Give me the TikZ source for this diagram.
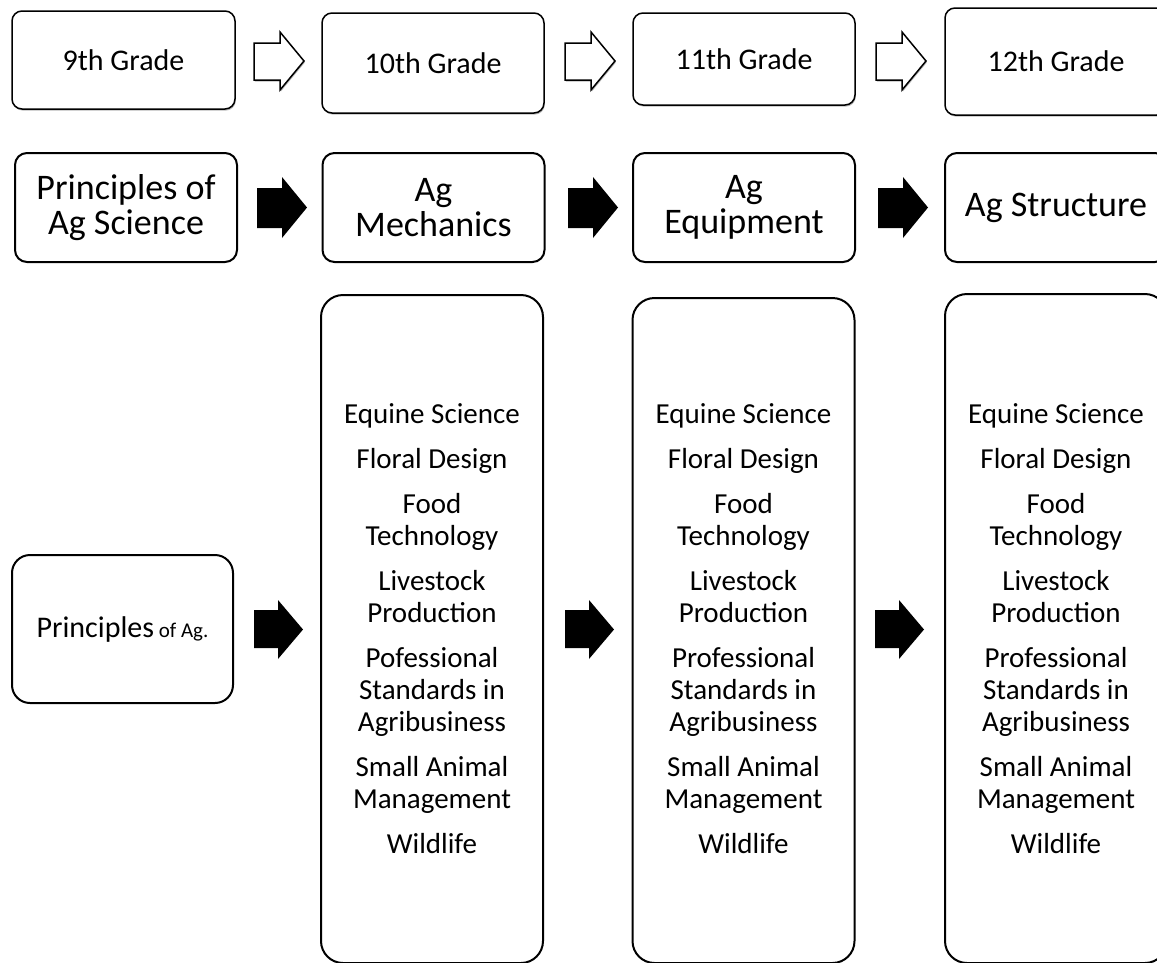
\documentclass[tikz,border=0pt]{standalone}
\usepackage{fontspec}
\setmainfont{Carlito}
\usetikzlibrary{shadows}
\newcommand\electivelist[1]{Equine Science\\[13pt]Floral Design\\[13pt]Food\\Technology\\[13pt]Livestock\\Production\\[13pt]#1\\Standards in\\Agribusiness\\[13pt]Small Animal\\Management\\[13pt]Wildlife}
\begin{document}
\begin{tikzpicture}[x=1pt,y=-1pt,
  shad/.style={drop shadow={shadow xshift=0.8pt,shadow yshift=-1.6pt,opacity=0.45,fill=black!60}},
  gradebox/.style={draw, fill=white, shad, line width=1.5pt, rounded corners=10pt, align=center, inner sep=0pt,
    font=\fontsize{30}{36}\selectfont},
  coursebox/.style={draw, fill=white, line width=2pt, rounded corners=12pt, align=center, inner sep=0pt,
    font=\fontsize{36}{35}\selectfont},
  tallbox/.style={draw, fill=white, line width=2pt, rounded corners=22pt, align=center, inner sep=0pt,
    minimum width=222pt, font=\fontsize{29}{32}\selectfont},
  electives/.style={align=center, inner sep=0pt, font=\fontsize{29}{32}\selectfont},
  outarrow/.style={draw, fill=white, shad, line width=1.5pt, line join=miter},
  blackarrow/.style={fill=black}
]
\clip (0,0) rectangle (1157,962);
\fill[white] (0,0) rectangle (1157,962);

% row 1: grades
\node[gradebox, minimum width=223pt, minimum height=98pt] (g9) at (123.5,60) {9th Grade};
\node[gradebox, minimum width=222pt, minimum height=100pt] (g10) at (433,63) {10th Grade};
\node[gradebox, minimum width=222pt, minimum height=92pt] (g11) at (744,59) {11th Grade};
\node[gradebox, minimum width=222pt, minimum height=107pt] (g12) at (1056,61.5) {12th Grade};

\foreach \dx in {0,311,622}{
  \begin{scope}[shift={(\dx,0)}]
    \draw[outarrow] (254,43) -- (280,43) -- (280,32) -- (304,61) -- (280,90) -- (280,80) -- (254,80) -- cycle;
  \end{scope}
}

% row 2: courses
\node[coursebox, minimum width=222pt, minimum height=109pt] (pas) at (126,207.5) {Principles of\\Ag Science};
\node[coursebox, minimum width=222pt, minimum height=109pt] (mech) at (433.5,207.5) {Ag\\Mechanics};
\node[coursebox, minimum width=222pt, minimum height=109pt] (equip) at (744,207.5) {Ag\\Equipment};
\node[coursebox, minimum width=222pt, minimum height=109pt] (struct) at (1056,207.5) {Ag Structure};

\foreach \dx in {0,311,621}{
  \begin{scope}[shift={(\dx,0)}]
    \fill[blackarrow] (257,188) -- (282,188) -- (282,177) -- (307,207.5) -- (282,238) -- (282,228) -- (257,228) -- cycle;
  \end{scope}
}

% row 3: electives
\node[coursebox, rounded corners=18pt, minimum width=221pt, minimum height=148pt] (pa) at (122.5,629)
  {\fontsize{30}{36}\selectfont Principles\fontsize{21}{36}\selectfont{} of Ag.};
\node[tallbox, minimum height=668pt] (e10) at (432,629) {};
\node[tallbox, minimum height=665pt] (e11) at (743.5,630.5) {};
\node[tallbox, minimum height=669pt] (e12) at (1056,628.5) {};
\node[electives] (t10) at (432,629) {\electivelist{Pofessional}};
\node[electives] (t11) at (743.5,629) {\electivelist{Professional}};
\node[electives] (t12) at (1056,629) {\electivelist{Professional}};

\foreach \dx in {0,311,621}{
  \begin{scope}[shift={(\dx,0)}]
    \fill[blackarrow] (254,610) -- (278,610) -- (278,600) -- (303,629.5) -- (278,659) -- (278,648) -- (254,648) -- cycle;
  \end{scope}
}
\end{tikzpicture}
\end{document}
